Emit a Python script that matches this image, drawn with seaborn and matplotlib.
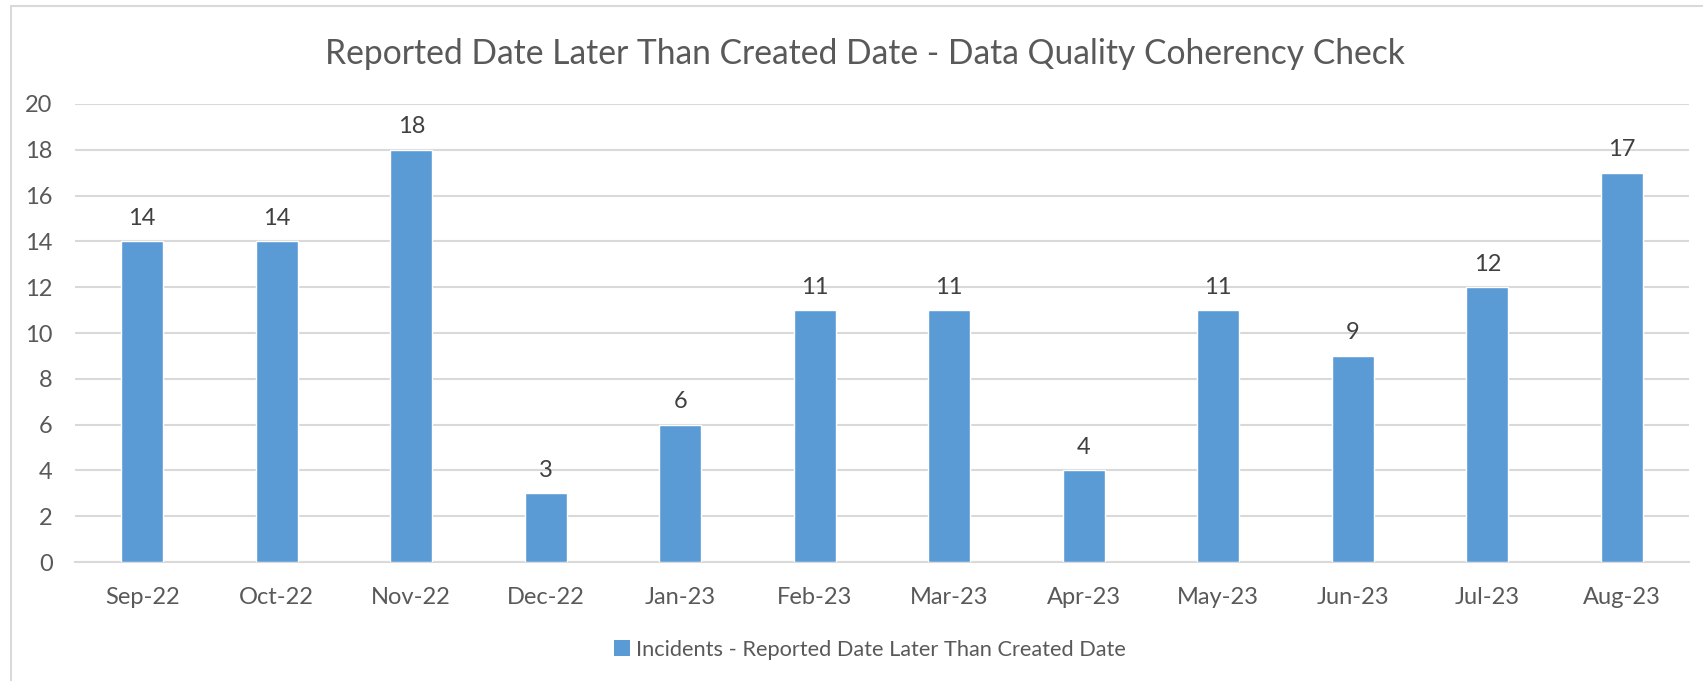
import matplotlib
matplotlib.use("Agg")
import pandas as pd
import seaborn as sns
import matplotlib.pyplot as plt
from matplotlib.patches import Rectangle, Patch

#chart data
months = ["Sep-22", "Oct-22", "Nov-22", "Dec-22", "Jan-23", "Feb-23",
          "Mar-23", "Apr-23", "May-23", "Jun-23", "Jul-23", "Aug-23"]
incidents = [14, 14, 18, 3, 6, 11, 11, 4, 11, 9, 12, 17]
series_name = "Incidents - Reported Date Later Than Created Date"
title = "Reported Date Later Than Created Date - Data Quality Coherency Check"
y_ticks = [0, 2, 4, 6, 8, 10, 12, 14, 16, 18, 20]

BAR = "#5B9BD5"
TEXT = "#595959"
GRID = "#D9D9D9"

sns.set_style("white")
plt.rcParams["font.family"] = ["Lato", "DejaVu Sans"]

df = pd.DataFrame({"month": months, "incidents": incidents})

fig = plt.figure(figsize=(17.03, 6.81), dpi=100)
ax = fig.add_axes([0.044, 0.1747, 0.9478, 0.6726])

#chart border
fig.patches.append(Rectangle((11 / 1703, -0.05), 1.2, 1 - 6 / 681 + 0.05,
                             transform=fig.transFigure, fill=False,
                             edgecolor=GRID, linewidth=1.5))

sns.barplot(data=df, x="month", y="incidents", color=BAR, width=0.31,
            saturation=1, ax=ax, zorder=3)

for i, v in enumerate(incidents):
    ax.annotate(str(v), (i, v), xytext=(0, 9), textcoords="offset points",
                ha="center", va="bottom", fontsize=17, color="#404040")

ax.set_ylim(0, 20)
ax.set_xlim(-0.5, len(months) - 0.5)
ax.set_yticks(y_ticks)
ax.yaxis.grid(True, color=GRID, linewidth=1.5, zorder=0)
ax.set_axisbelow(True)
ax.set_xlabel("")
ax.set_ylabel("")

for s in ["top", "right", "left"]:
    ax.spines[s].set_visible(False)
ax.spines["bottom"].set_color(GRID)
ax.spines["bottom"].set_linewidth(1.5)

ax.set_xticks([i - 0.5 for i in range(len(months) + 1)], minor=True)
ax.tick_params(axis="x", which="minor", length=8, width=1.5, color=GRID)
ax.tick_params(axis="x", which="major", length=0, pad=18, labelsize=17, labelcolor=TEXT)
ax.tick_params(axis="y", length=0, pad=16, labelsize=17, labelcolor=TEXT)

fig.text(0.508, 0.921, title, ha="center", va="center", fontsize=24.2, color=TEXT)

handle = Patch(facecolor=BAR, edgecolor="none")
fig.legend([handle], [series_name], loc="center", bbox_to_anchor=(0.511, 0.046),
           frameon=False, fontsize=15.7, labelcolor=TEXT, handlelength=0.7,
           handleheight=0.7, handletextpad=0.3)

fig.savefig("out.png", dpi=100, facecolor="white")
